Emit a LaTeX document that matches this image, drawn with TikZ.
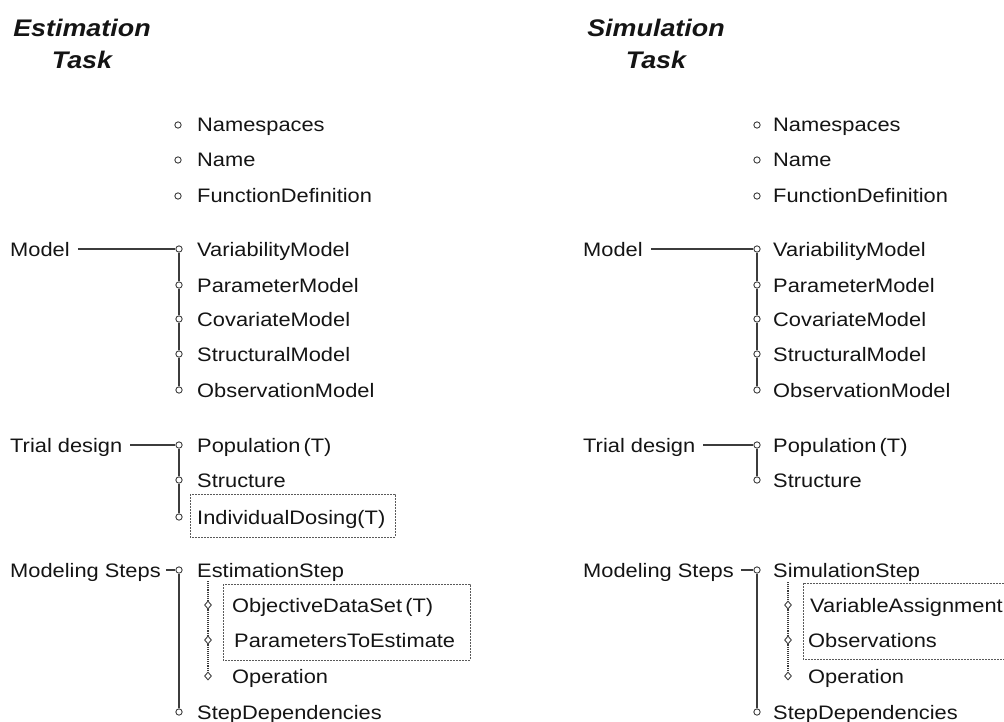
\documentclass[tikz,border=0pt]{standalone}
\usepackage{fontspec}
\setmainfont{Liberation Sans}[FakeStretch=1.12]
\usetikzlibrary{shapes.geometric}
\definecolor{ink}{HTML}{141414}
\definecolor{wire}{HTML}{3C3C3C}
\definecolor{frame}{HTML}{5A5A5A}
\newcommand{\itemfont}{\fontsize{19.5}{23}\selectfont}
\newcommand{\titlefont}{\fontsize{24}{32}\selectfont\bfseries\itshape}
\tikzset{
  txt/.style={anchor=base west, inner sep=0pt, text=ink, font=\itemfont},
  ttl/.style={align=center, text=ink, font=\titlefont, inner sep=0pt},
  knob/.style={circle, draw=wire, fill=white, line width=0.9pt, minimum size=6.3pt, inner sep=0pt},
  gem/.style={diamond, draw=wire, fill=white, line width=0.9pt, minimum width=7pt, minimum height=8pt, inner sep=0pt},
  trunk/.style={draw=wire, line width=1.4pt},
  twig/.style={draw=wire, line width=1.1pt},
  dotline/.style={draw=wire, line width=1.1pt, dash pattern=on 1.1pt off 1pt},
  groupbox/.style={draw=frame, line width=0.8pt, dash pattern=on 1.6pt off 1.4pt},
}
\begin{document}
\begin{tikzpicture}[x=1pt,y=-1pt]
\useasboundingbox (0,0) rectangle (1004,722);
\clip (0,0) rectangle (1004,722);

% ---------------- Estimation task ----------------
\node[ttl] (etitle) at (82,44) {Estimation\\Task};

\node[knob] (eb1) at (178,125) {};
\node[knob] (eb2) at (178,160) {};
\node[knob] (eb3) at (178,196) {};
\node[txt] (ens) at (197,132) {Namespaces};
\node[txt] (ena) at (197,167) {Name};
\node[txt] (efd) at (197,203) {FunctionDefinition};

% model group
\node[txt] (emodel) at (10,256) {Model};
\node[knob] (em1) at (179,249) {};
\node[knob] (em2) at (179,285) {};
\node[knob] (em3) at (179,319) {};
\node[knob] (em4) at (179,354) {};
\node[knob] (em5) at (179,390) {};
\node[txt] (evm) at (197,256) {VariabilityModel};
\node[txt] (epm) at (197,292) {ParameterModel};
\node[txt] (ecm) at (197,326) {CovariateModel};
\node[txt] (esm) at (197,361) {StructuralModel};
\node[txt] (eom) at (197,397) {ObservationModel};
\draw[twig] (emodel.east |- em1) ++(8,0) -- (em1);
\draw[trunk] (em1) -- (em2) -- (em3) -- (em4) -- (em5);

% trial design group
\node[txt] (etrial) at (10,452) {Trial design};
\node[knob] (et1) at (179,445) {};
\node[knob] (et2) at (179,480) {};
\node[knob] (et3) at (179,517) {};
\node[txt] (epop) at (197,452) {Population\,(T)};
\node[txt] (estr) at (197,487) {Structure};
\node[txt] (eind) at (197,524) {IndividualDosing(T)};
\draw[twig] (etrial.east |- et1) ++(8,0) -- (et1);
\draw[trunk] (et1) -- (et2) -- (et3);
\draw[groupbox] (190,494) rectangle (395,537);

% modeling steps group
\node[txt] (esteps) at (10,577) {Modeling Steps};
\node[knob] (es1) at (179,570) {};
\node[knob] (es2) at (179,712) {};
\node[txt] (eest) at (197,577) {EstimationStep};
\node[txt] (edep) at (197,719) {StepDependencies};
\draw[twig] (esteps.east |- es1) ++(5,0) -- (es1);
\draw[trunk] (es1) -- (es2);

\coordinate (eds) at (208,581);
\node[gem] (eg1) at (208,605) {};
\node[gem] (eg2) at (208,640) {};
\node[gem] (eg3) at (208,676) {};
\node[txt] (eobj) at (232,612) {ObjectiveDataSet\,(T)};
\node[txt] (epar) at (234,647) {ParametersToEstimate};
\node[txt] (eop) at (232,683) {Operation};
\draw[dotline] (eds) -- (eg1) -- (eg2) -- (eg3);
\draw[groupbox] (223,584) rectangle (470,660);

% ---------------- Simulation task ----------------
\node[ttl] (stitle) at (656,44) {Simulation\\Task};

\node[knob] (sb1) at (757,125) {};
\node[knob] (sb2) at (757,160) {};
\node[knob] (sb3) at (757,196) {};
\node[txt] (sns) at (773,132) {Namespaces};
\node[txt] (sna) at (773,167) {Name};
\node[txt] (sfd) at (773,203) {FunctionDefinition};

% model group
\node[txt] (smodel) at (583,256) {Model};
\node[knob] (sm1) at (757,249) {};
\node[knob] (sm2) at (757,285) {};
\node[knob] (sm3) at (757,319) {};
\node[knob] (sm4) at (757,354) {};
\node[knob] (sm5) at (757,390) {};
\node[txt] (svm) at (773,256) {VariabilityModel};
\node[txt] (spm) at (773,292) {ParameterModel};
\node[txt] (scm) at (773,326) {CovariateModel};
\node[txt] (ssm) at (773,361) {StructuralModel};
\node[txt] (som) at (773,397) {ObservationModel};
\draw[twig] (smodel.east |- sm1) ++(8,0) -- (sm1);
\draw[trunk] (sm1) -- (sm2) -- (sm3) -- (sm4) -- (sm5);

% trial design group
\node[txt] (strial) at (583,452) {Trial design};
\node[knob] (st1) at (757,445) {};
\node[knob] (st2) at (757,480) {};
\node[txt] (spop) at (773,452) {Population\,(T)};
\node[txt] (sstr) at (773,487) {Structure};
\draw[twig] (strial.east |- st1) ++(8,0) -- (st1);
\draw[trunk] (st1) -- (st2);

% modeling steps group
\node[txt] (ssteps) at (583,577) {Modeling Steps};
\node[knob] (ss1) at (757,570) {};
\node[knob] (ss2) at (757,712) {};
\node[txt] (ssim) at (773,577) {SimulationStep};
\node[txt] (sdep) at (773,719) {StepDependencies};
\draw[twig] (ssteps.east |- ss1) ++(7,0) -- (ss1);
\draw[trunk] (ss1) -- (ss2);

\coordinate (sds) at (788,582);
\node[gem] (sg1) at (788,605) {};
\node[gem] (sg2) at (788,640) {};
\node[gem] (sg3) at (788,676) {};
\node[txt] (svar) at (810,612) {VariableAssignment};
\node[txt] (sobs) at (808,647) {Observations};
\node[txt] (sop) at (808,683) {Operation};
\draw[dotline] (sds) -- (sg1) -- (sg2) -- (sg3);
\draw[groupbox] (803,583) rectangle (1012,659);
\end{tikzpicture}
\end{document}
